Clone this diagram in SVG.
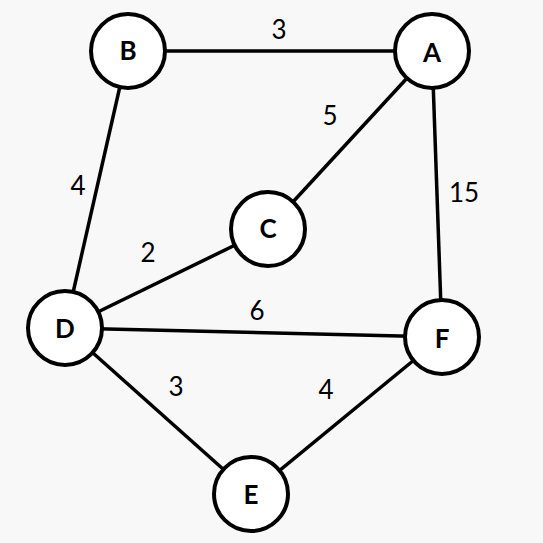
<svg xmlns="http://www.w3.org/2000/svg" width="543" height="543" viewBox="0 0 543 543">
<style>
.e{stroke:#000;stroke-width:3.5;fill:none}
.n circle{fill:#fff;stroke:#000;stroke-width:4}
.n text{font-family:Lato,"Liberation Sans",sans-serif;font-weight:bold;font-size:26px;text-anchor:middle;dominant-baseline:central;fill:#000}
.w{font-family:Lato,"Liberation Sans",sans-serif;font-size:26px;text-anchor:middle;dominant-baseline:central;fill:#000}
</style>
<rect width="543" height="543" fill="#f8f8f8"/>
<g id="connectors">
<line class="e" x1="128" y1="51" x2="432" y2="51"/>
<line class="e" x1="432" y1="51" x2="268" y2="229"/>
<line class="e" x1="432" y1="51" x2="442" y2="337"/>
<line class="e" x1="128" y1="51" x2="65" y2="328"/>
<line class="e" x1="268" y1="229" x2="65" y2="328"/>
<line class="e" x1="65" y1="328" x2="442" y2="337"/>
<line class="e" x1="65" y1="328" x2="251" y2="494"/>
<line class="e" x1="442" y1="337" x2="251" y2="494"/>
<text class="w" x="279" y="29">3</text>
<text class="w" x="330" y="115">5</text>
<text class="w" x="464" y="192">15</text>
<text class="w" x="78" y="185">4</text>
<text class="w" x="148" y="252">2</text>
<text class="w" x="257" y="310">6</text>
<text class="w" x="176" y="386">3</text>
<text class="w" x="326" y="389">4</text>
</g>
<g id="B" class="n"><circle cx="128" cy="51" r="37"/><text x="128" y="50">B</text></g>
<g id="A" class="n"><circle cx="432" cy="51" r="37"/><text x="432" y="52">A</text></g>
<g id="C" class="n"><circle cx="268" cy="229" r="37"/><text x="268" y="228">C</text></g>
<g id="D" class="n"><circle cx="65" cy="328" r="37"/><text x="65" y="328">D</text></g>
<g id="F" class="n"><circle cx="442" cy="337" r="37"/><text x="442" y="338">F</text></g>
<g id="E" class="n"><circle cx="251" cy="494" r="37"/><text x="251" y="494">E</text></g>
</svg>
